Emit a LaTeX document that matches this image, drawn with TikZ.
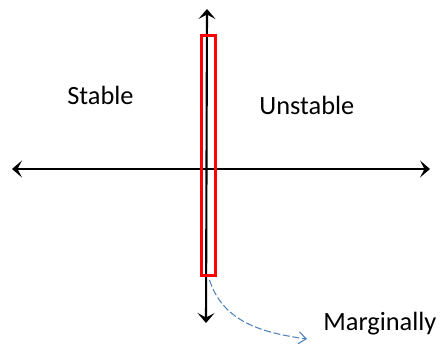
\documentclass[tikz,border=0pt]{standalone}
\usepackage{fontspec}
\setmainfont{Carlito}
\usetikzlibrary{positioning, arrows.meta}
\definecolor{axisink}{HTML}{000000}
\definecolor{bandred}{HTML}{FF0000}
\definecolor{noteblue}{HTML}{4F81BD}

\begin{document}
\begin{tikzpicture}[font=\fontsize{15}{18}\selectfont,
    axis/.style={axisink, line width=1.2pt, {Stealth[length=2mm, width=3.4mm, inset=0.9mm]}-{Stealth[length=2mm, width=3.4mm, inset=0.9mm]}},
    region/.style={anchor=base west, inner sep=0pt}]
  \useasboundingbox (0,0) rectangle (8.9,6.86);

  % Axes
  \coordinate (xl) at (0.24,3.48);
  \coordinate (xr) at (8.60,3.48);
  \coordinate (yt) at (4.14,6.68);
  \coordinate (yb) at (4.12,0.40);
  \draw[axis] (xl) -- (xr);
  \draw[axis] (yt) -- (yb);

  % Marginal band
  \node[draw=bandred, line width=1.7pt, minimum width=2.8mm, minimum height=4.8cm,
        inner sep=0pt] (band) at (4.17,3.75) {};

  % Region labels
  \node[region] (stable) at (1.34,4.78) {Stable};
  \node[region] (unstable) at (5.18,4.58) {Unstable};
  \node[region] (marginal) at (6.46,0.26) {Marginally};

  % Pointer to the band
  \coordinate (tip) at (6.14,0.08);
  \draw[noteblue, line width=0.6pt, dash pattern=on 4pt off 1.5pt, -{Straight Barb[length=1.5mm, width=2.4mm]}]
    ([xshift=0.2mm,yshift=-0.6mm]band.south) to[out=-72, in=172] (tip);
\end{tikzpicture}
\end{document}
